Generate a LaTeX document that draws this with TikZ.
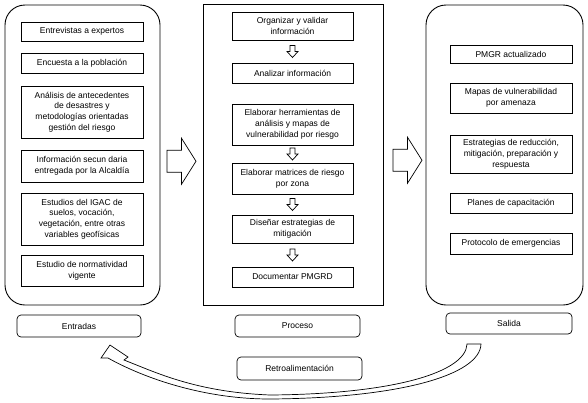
\documentclass[tikz,border=0pt]{standalone}
\usepackage{fontspec}
\setmainfont{Liberation Sans}
\usetikzlibrary{calc}
\begin{document}
\begin{tikzpicture}[x=1pt,y=-1pt,
  box/.style={draw, line width=0.7pt, align=center, inner sep=1pt, font=\fontsize{8.5}{10.8}\selectfont},
  lbox/.style={box, minimum width=122pt},
  container/.style={draw, line width=0.9pt, inner sep=0pt},
  tag/.style={box, rounded corners=4pt},
  hollow/.style={draw, line width=0.7pt, fill=white, line join=miter},
  downarr/.pic={\draw[hollow] (-2.5,-6) -- (2.5,-6) -- (2.5,0) -- (5.5,0) -- (0,6) -- (-5.5,0) -- (-2.5,0) -- cycle;},
  bigarr/.pic={\draw[hollow] (-14.5,-11) -- (0,-11) -- (0,-23) -- (14.5,0) -- (0,23) -- (0,11) -- (-14.5,11) -- cycle;}
]
\useasboundingbox (0,0) rectangle (588,402);

% containers
\node[container, rounded corners=20pt, minimum width=155pt, minimum height=300pt] (left) at (82.5,155) {};
\node[container, minimum width=180pt, minimum height=301pt] (mid) at (293,154.5) {};
\node[container, rounded corners=20pt, minimum width=157pt, minimum height=300pt] (right) at (504.5,155) {};

% left boxes
\node[lbox, minimum height=19pt] (l1) at (82,31.5) {Entrevistas a expertos};
\node[lbox, minimum height=20pt] (l2) at (82,63) {Encuesta a la población};
\node[lbox, minimum height=52pt] (l3) at (82,112) {Análisis de antecedentes\\de desastres y\\metodologías orientadas\\gestión del riesgo};
\node[lbox, minimum height=32pt] (l4) at (82,166) {Información secun daria\\entregada por la Alcaldía};
\node[lbox, minimum height=52pt] (l5) at (82,219) {Estudios del IGAC de\\suelos, vocación,\\vegetación, entre otras\\variables geofísicas};
\node[lbox, minimum height=31pt] (l6) at (82,270.5) {Estudio de normatividad\\vigente};

% middle boxes
\node[box, minimum width=121pt, minimum height=28pt] (m1) at (292.5,26) {Organizar y validar\\información};
\node[box, minimum width=121pt, minimum height=20pt] (m2) at (292.5,73) {Analizar información};
\node[box, minimum width=121pt, minimum height=41pt] (m3) at (292.5,124.5) {Elaborar herramientas de\\análisis y mapas de\\vulnerabilidad por riesgo};
\node[box, minimum width=121pt, minimum height=31pt] (m4) at (292.5,178.5) {Elaborar matrices de riesgo\\por zona};
\node[box, minimum width=121pt, minimum height=28pt] (m5) at (292.5,229) {Diseñar estrategias de\\mitigación};
\node[box, minimum width=121pt, minimum height=20pt] (m6) at (292.5,277) {Documentar PMGRD};

\path ($(m1.south)!0.5!(m2.north)$) pic {downarr};
\path ($(m3.south)!0.5!(m4.north)$) pic {downarr};
\path ($(m4.south)!0.5!(m5.north)$) pic {downarr};
\path ($(m5.south)!0.5!(m6.north)$) pic {downarr};

% right boxes
\node[lbox, minimum height=18pt] (r1) at (511,54) {PMGR actualizado};
\node[lbox, minimum height=30pt] (r2) at (511,98) {Mapas de vulnerabilidad\\por amenaza};
\node[lbox, minimum height=38pt] (r3) at (511,154) {Estrategias de reducción,\\mitigación, preparación y\\respuesta};
\node[lbox, minimum height=20pt] (r4) at (511,203) {Planes de capacitación};
\node[lbox, minimum height=21pt] (r5) at (511,243.5) {Protocolo de emergencias};

% tags
\node[tag, minimum width=124pt, minimum height=22pt] (entradas) at (79,326) {Entradas};
\node[tag, minimum width=125pt, minimum height=22pt] (proceso) at (297.5,326) {Proceso};
\node[tag, minimum width=126pt, minimum height=21pt] (salida) at (509,323.5) {Salida};
\node[tag, minimum width=125pt, minimum height=23pt] (retro) at (299.5,368.5) {Retroalimentación};

% big arrows
\path ($(left.east)!0.5!(mid.west)$) ++(0,6.5) pic {bigarr};
\path ($(mid.east)!0.5!(right.west)$) ++(3,5.5) pic {bigarr};

% feedback arrow
\draw[hollow] (110,345) -- (128,357) -- (124,360)
  .. controls (155,372) and (195,392) .. (270,395)
  .. controls (395,394) and (466,372) .. (467,344)
  -- (481,344)
  .. controls (480,375) and (400,398) .. (270,399)
  .. controls (200,399) and (140,376) .. (108,358)
  -- (101,358) -- cycle;
\end{tikzpicture}
\end{document}
